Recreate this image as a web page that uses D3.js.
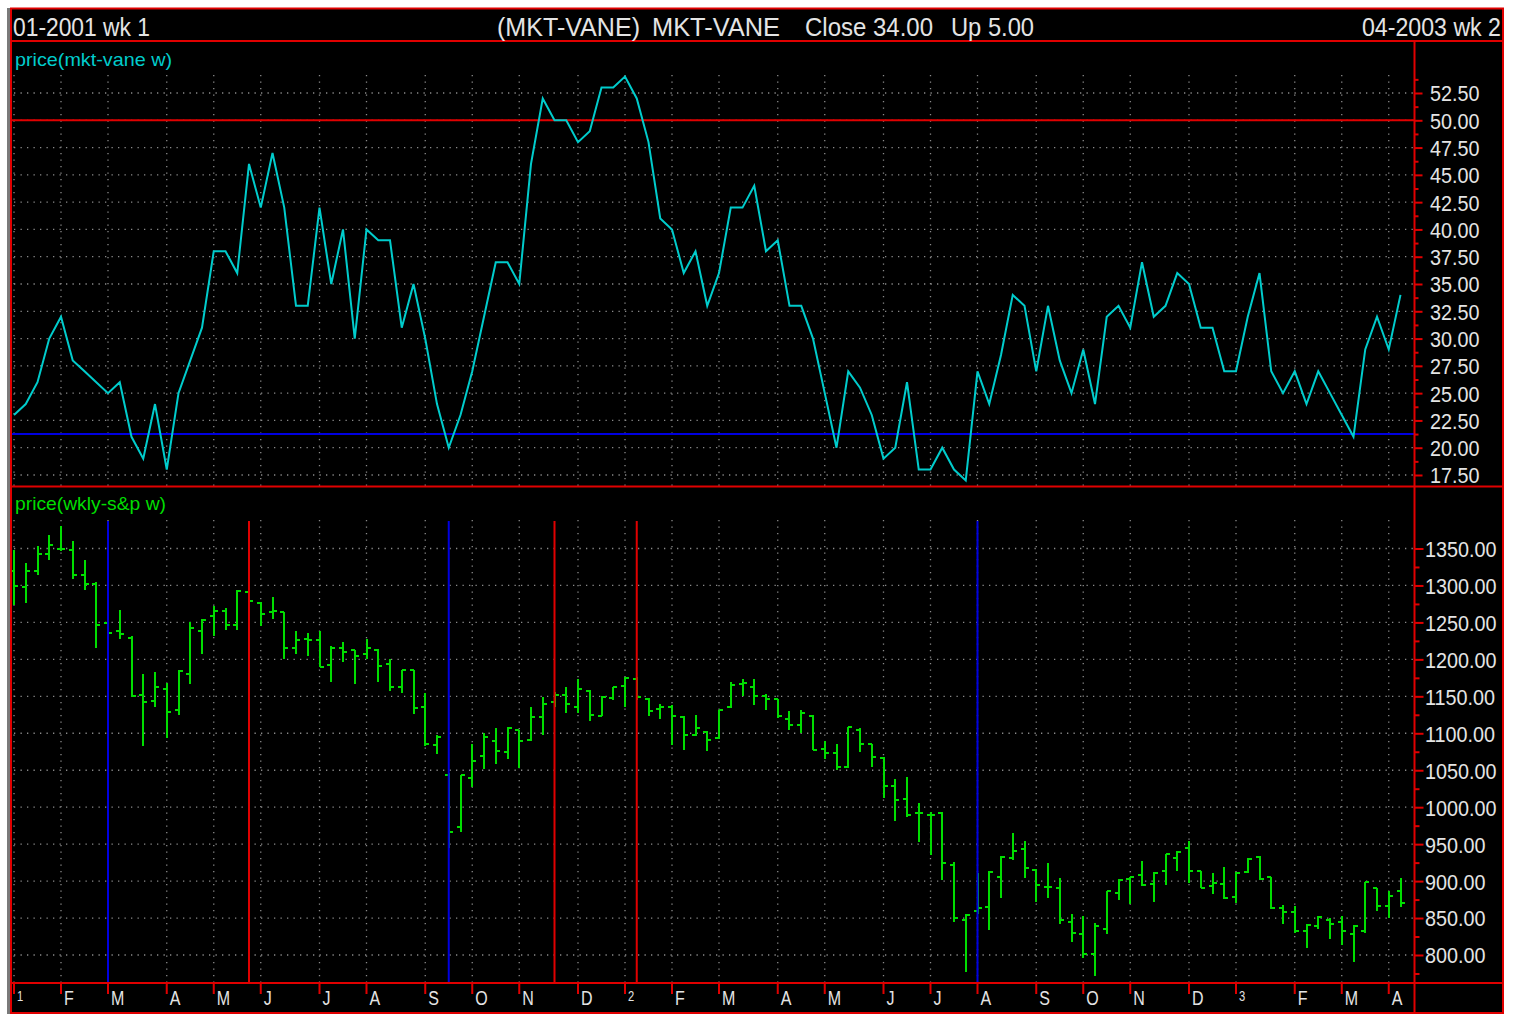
<!DOCTYPE html>
<html>
<head>
<meta charset="utf-8">
<script src="https://cdn.jsdelivr.net/npm/d3@7"></script>
<style>
body { margin: 0; background: #fff; }
svg { display: block; }
</style>
</head>
<body>
<svg id="chart" width="1517" height="1015"></svg>
<script>
// weekly values, 01-2001 wk 1 .. 04-2003 wk 2 (119 weeks)
var vane = [23, 24, 26, 30, 32, 28, 27, 26, 25, 26, 21, 19, 24, 18, 25, 28, 31, 38, 38, 36,
	46, 42, 47, 42, 33, 33, 42, 35, 40, 30, 40, 39, 39, 31, 35, 30, 24, 20, 23, 27,
	32, 37, 37, 35, 46, 52, 50, 50, 48, 49, 53, 53, 54, 52, 48, 41, 40, 36, 38, 33,
	36, 42, 42, 44, 38, 39, 33, 33, 30, 25, 20, 27, 25.5, 23, 19, 20, 26, 18, 18, 20,
	18, 17, 27, 24, 28.5, 34, 33, 27, 33, 28, 25, 29, 24, 32, 33, 31, 37, 32, 33, 36,
	35, 31, 31, 27, 27, 32, 36, 27, 25, 27, 24, 27, 25, 23, 21, 29, 32, 29, 34];

var spOpen = [1320, 1298, 1319, 1342, 1350, 1348, 1314, 1302, 1249, 1238, 1229, 1152, 1144, 1160, 1131, 1180, 1238, 1258, 1266, 1246,
	1291, 1276, 1264, 1264, 1216, 1227, 1226, 1192, 1215, 1212, 1207, 1213, 1194, 1163, 1186, 1135, 1084, 1043, 973, 1040,
	1069, 1089, 1074, 1104, 1091, 1122, 1142, 1152, 1136, 1157, 1124, 1148, 1164, 1173, 1146, 1133, 1136, 1122, 1097, 1102,
	1094, 1135, 1166, 1162, 1150, 1146, 1119, 1111, 1124, 1079, 1073, 1055, 1105, 1085, 1067, 1028, 1011, 992, 989, 992,
	922, 847, 860, 865, 906, 931, 944, 915, 892, 890, 845, 829, 802, 835, 884, 903, 908, 896, 914, 931,
	945, 914, 894, 896, 878, 912, 932, 906, 863, 858, 833, 839, 848, 845, 829, 832, 890, 866, 886];
var spHigh = [1348, 1330, 1353, 1368, 1381, 1360, 1335, 1304, 1262, 1267, 1231, 1180, 1183, 1168, 1185, 1251, 1254, 1272, 1269, 1294,
	1296, 1277, 1285, 1264, 1239, 1236, 1239, 1218, 1224, 1213, 1227, 1214, 1200, 1186, 1186, 1155, 1097, 1046, 1044, 1085,
	1100, 1107, 1109, 1105, 1136, 1149, 1156, 1163, 1174, 1158, 1150, 1163, 1176, 1176, 1148, 1140, 1138, 1123, 1125, 1103,
	1132, 1170, 1173, 1173, 1153, 1147, 1130, 1131, 1125, 1089, 1086, 1109, 1107, 1086, 1068, 1038, 1041, 1005, 993, 993,
	926, 855, 911, 914, 934, 965, 954, 916, 924, 904, 856, 853, 843, 886, 903, 906, 927, 912, 937, 941,
	954, 914, 911, 919, 912, 931, 934, 906, 868, 866, 842, 853, 850, 853, 841, 899, 891, 886, 904];
var spLow = [1273, 1276, 1314, 1334, 1347, 1309, 1294, 1215, 1225, 1227, 1149, 1083, 1136, 1093, 1125, 1166, 1207, 1232, 1240, 1240,
	1275, 1245, 1255, 1201, 1207, 1205, 1189, 1169, 1197, 1166, 1200, 1169, 1157, 1154, 1126, 1083, 1072, 945, 966, 1027,
	1052, 1058, 1065, 1053, 1089, 1098, 1136, 1127, 1127, 1116, 1124, 1145, 1136, 1145, 1124, 1119, 1084, 1078, 1096, 1076,
	1092, 1134, 1151, 1138, 1131, 1121, 1104, 1101, 1077, 1065, 1050, 1053, 1075, 1055, 1013, 981, 987, 953, 935, 902,
	844, 777, 856, 834, 877, 929, 904, 872, 877, 842, 818, 796, 771, 829, 875, 869, 893, 872, 895, 913,
	898, 890, 882, 876, 870, 911, 902, 862, 842, 830, 809, 835, 821, 814, 791, 830, 860, 850, 865];
var spClose = [1299, 1319, 1342, 1355, 1350, 1314, 1302, 1246, 1236, 1234, 1150, 1142, 1162, 1129, 1184, 1243, 1253, 1266, 1246, 1292,
	1279, 1261, 1266, 1216, 1226, 1226, 1190, 1216, 1210, 1205, 1215, 1191, 1163, 1186, 1134, 1086, 1095, 967, 1043, 1063,
	1095, 1076, 1107, 1089, 1122, 1140, 1152, 1140, 1160, 1125, 1149, 1163, 1175, 1149, 1130, 1136, 1124, 1097, 1107, 1091,
	1131, 1165, 1168, 1150, 1147, 1123, 1111, 1127, 1078, 1073, 1055, 1108, 1085, 1068, 1028, 1010, 989, 992, 990, 924,
	850, 854, 864, 912, 932, 941, 918, 895, 892, 847, 830, 802, 839, 886, 902, 905, 895, 911, 936, 940,
	914, 890, 898, 877, 911, 930, 903, 863, 858, 833, 840, 851, 842, 832, 839, 899, 866, 880, 870];

var vaneTicks = [17.5, 20, 22.5, 25, 27.5, 30, 32.5, 35, 37.5, 40, 42.5, 45, 47.5, 50, 52.5];
var spTicks = [800, 850, 900, 950, 1000, 1050, 1100, 1150, 1200, 1250, 1300, 1350];
var vaneUpper = 50, vaneLower = 21.25;
var blueWeeks = [8, 37, 82];
var redWeeks = [20, 46, 53];
var monthLetters = ["1", "F", "M", "A", "M", "J", "J", "A", "S", "O", "N", "D"];

var RED = "#e00000", BLUE = "#0000e0", CYAN = "#00cccc", GREEN = "#00dd00", TXT = "#e4e4e4", DOT = "#8a8a8a";

var svg = d3.select("#chart");

// one friday per week, first week of each month gets a tick
var weeks = d3.timeFriday.range(new Date(2001, 0, 5), new Date(2003, 3, 12));
var monthTicks = [];
weeks.forEach(function (d, i) {
	if (i == 0 || d.getMonth() != weeks[i - 1].getMonth()) monthTicks.push(i);
});

var x = d3.scaleLinear().domain([0, weeks.length - 1]).range([14, 1400.5]);
var yVane = d3.scaleLinear().domain([17.5, 52.5]).range([475, 93]);
var ySp = d3.scaleLinear().domain([800, 1350]).range([955, 548.5]);

// text helper, squeezes text to a given width
function label(x0, y0, s, size, fill, width, anchor) {
	var t = svg.append("text")
		.attr("x", x0)
		.attr("y", y0)
		.attr("font-family", "Liberation Sans, Arial, sans-serif")
		.attr("font-size", size)
		.attr("fill", fill)
		.attr("text-anchor", anchor || "start")
		.text(s);
	if (width) t.attr("textLength", width).attr("lengthAdjust", "spacingAndGlyphs");
	return t;
}

// background
svg.append("rect").attr("x", 7).attr("y", 8).attr("width", 3).attr("height", 1006).attr("fill", "#7a7a7a");
svg.append("rect").attr("x", 11).attr("y", 8.5).attr("width", 1492).attr("height", 1004.5).attr("fill", "#000");

// dotted grid
var grid = svg.append("g")
	.attr("stroke", DOT)
	.attr("stroke-width", 1.3)
	.attr("stroke-dasharray", "1.3,5.2");

monthTicks.forEach(function (i) {
	grid.append("line").attr("x1", x(i)).attr("x2", x(i)).attr("y1", 75).attr("y2", 486);
	grid.append("line").attr("x1", x(i)).attr("x2", x(i)).attr("y1", 520).attr("y2", 983);
});
vaneTicks.forEach(function (v) {
	grid.append("line").attr("x1", 14).attr("x2", 1414).attr("y1", yVane(v)).attr("y2", yVane(v));
});
spTicks.forEach(function (v) {
	grid.append("line").attr("x1", 14).attr("x2", 1414).attr("y1", ySp(v)).attr("y2", ySp(v));
});

// upper panel: level lines and mkt-vane
svg.append("line")
	.attr("x1", 12).attr("x2", 1414)
	.attr("y1", yVane(vaneUpper)).attr("y2", yVane(vaneUpper))
	.attr("stroke", RED).attr("stroke-width", 2);
svg.append("line")
	.attr("x1", 12).attr("x2", 1414)
	.attr("y1", yVane(vaneLower)).attr("y2", yVane(vaneLower))
	.attr("stroke", BLUE).attr("stroke-width", 2);

var line = d3.line()
	.x(function (d, i) { return x(i); })
	.y(function (d) { return yVane(d); });

svg.append("path")
	.datum(vane)
	.attr("d", line)
	.attr("fill", "none")
	.attr("stroke", CYAN)
	.attr("stroke-width", 2)
	.attr("stroke-linejoin", "miter");

// lower panel: weekly s&p bars
var bars = svg.append("g")
	.attr("stroke", GREEN)
	.attr("stroke-width", 2)
	.attr("shape-rendering", "crispEdges");

spClose.forEach(function (c, i) {
	var bx = Math.round(x(i));
	bars.append("line").attr("x1", bx).attr("x2", bx).attr("y1", ySp(spHigh[i])).attr("y2", ySp(spLow[i]));
	bars.append("line").attr("x1", bx - 4).attr("x2", bx).attr("y1", ySp(spOpen[i])).attr("y2", ySp(spOpen[i]));
	bars.append("line").attr("x1", bx).attr("x2", bx + 4).attr("y1", ySp(c)).attr("y2", ySp(c));
});

blueWeeks.forEach(function (i) {
	svg.append("line").attr("x1", x(i)).attr("x2", x(i)).attr("y1", 521).attr("y2", 983)
		.attr("stroke", BLUE).attr("stroke-width", 2);
});
redWeeks.forEach(function (i) {
	svg.append("line").attr("x1", x(i)).attr("x2", x(i)).attr("y1", 521).attr("y2", 983)
		.attr("stroke", RED).attr("stroke-width", 2);
});

// frame
var frame = svg.append("g").attr("stroke", RED).attr("stroke-width", 2).attr("fill", "none");
frame.append("rect").attr("x", 11).attr("y", 8.5).attr("width", 1492).attr("height", 1004.5);
[41, 486.5, 983].forEach(function (yy) {
	frame.append("line").attr("x1", 11).attr("x2", 1503).attr("y1", yy).attr("y2", yy);
});
frame.append("line").attr("x1", 1414.5).attr("x2", 1414.5).attr("y1", 41).attr("y2", 1013);

// right axes
var vaneAxis = svg.append("g")
	.attr("transform", "translate(1414.5,0)")
	.call(d3.axisRight(yVane).tickValues(vaneTicks).tickSize(8).tickPadding(7.5).tickFormat(d3.format(".2f")));
var vaneMinor = svg.append("g")
	.attr("transform", "translate(1414.5,0)")
	.call(d3.axisRight(yVane).tickValues(vaneTicks.map(function (v) { return v + 1.25; })).tickSize(4).tickFormat(""));
var spAxis = svg.append("g")
	.attr("transform", "translate(1414.5,0)")
	.call(d3.axisRight(ySp).tickValues(spTicks).tickSize(9).tickPadding(1.5).tickFormat(d3.format(".2f")));
var spMinor = svg.append("g")
	.attr("transform", "translate(1414.5,0)")
	.call(d3.axisRight(ySp).tickValues(spTicks.map(function (v) { return v - 25; })).tickSize(5).tickFormat(""));

[vaneAxis, vaneMinor, spAxis, spMinor].forEach(function (a) {
	a.select(".domain").remove();
	a.selectAll("line").attr("stroke", RED).attr("stroke-width", 2);
	a.selectAll("text")
		.attr("fill", TXT)
		.attr("font-family", "Liberation Sans, Arial, sans-serif")
		.attr("font-size", 22)
		.attr("dy", "0.36em")
		.each(function () {
			var t = d3.select(this);
			var px = +t.attr("x");
			t.attr("x", 0).attr("transform", "translate(" + px + ",0) scale(0.9,1)");
		});
});

// month axis
monthTicks.forEach(function (i) {
	var d = weeks[i];
	svg.append("line").attr("x1", x(i)).attr("x2", x(i)).attr("y1", 983).attr("y2", 994)
		.attr("stroke", RED).attr("stroke-width", 2);
	var isYear = d.getMonth() == 0;
	var s = isYear ? String(d.getFullYear() % 10) : monthLetters[d.getMonth()];
	svg.append("text")
		.attr("font-family", "Liberation Sans, Arial, sans-serif")
		.attr("font-size", isYear ? 14 : 20)
		.attr("fill", TXT)
		.attr("transform", "translate(" + (x(i) + 3) + "," + (isYear ? 1001 : 1005) + ") scale(0.8,1)")
		.text(s);
});

// header and panel titles
label(13, 35.5, "01-2001 wk 1", 25, TXT, 137);
label(497, 35.5, "(MKT-VANE)", 25, TXT, 143);
label(652, 35.5, "MKT-VANE", 25, TXT, 128);
label(805, 35.5, "Close 34.00", 25, TXT, 128);
label(951, 35.5, "Up 5.00", 25, TXT, 83);
label(1501, 35.5, "04-2003 wk 2", 25, TXT, 139, "end");
label(15, 66, "price(mkt-vane w)", 19, CYAN, 157);
label(15, 510, "price(wkly-s&p w)", 19, GREEN, 151);
</script>
</body>
</html>
